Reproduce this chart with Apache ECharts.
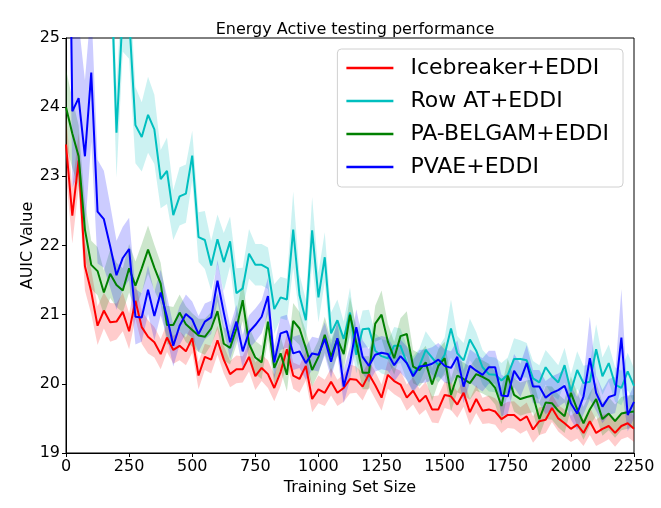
<!DOCTYPE html>
<html>
<head>
<meta charset="utf-8">
<script src="https://cdn.jsdelivr.net/npm/echarts@6/dist/echarts.min.js"></script>
<style>
  html, body { margin: 0; padding: 0; background: #fff; }
  #chart { width: 661px; height: 508px; }
</style>
</head>
<body>
<div id="chart"></div>
<script>
// training set sizes (x)
const trainingSizes = [
  0, 25, 50, 75, 100, 125, 150, 175, 200, 225,
  250, 275, 300, 325, 350, 375, 400, 425, 450, 475,
  500, 525, 550, 575, 600, 625, 650, 675, 700, 725,
  750, 775, 800, 825, 850, 875, 900, 925, 950, 975,
  1000, 1025, 1050, 1075, 1100, 1125, 1150, 1175, 1200, 1225,
  1250, 1275, 1300, 1325, 1350, 1375, 1400, 1425, 1450, 1475,
  1500, 1525, 1550, 1575, 1600, 1625, 1650, 1675, 1700, 1725,
  1750, 1775, 1800, 1825, 1850, 1875, 1900, 1925, 1950, 1975,
  2000, 2025, 2050, 2075, 2100, 2125, 2150, 2175, 2200, 2225,
  2250
];

// mean AUIC per method
const icebreakerMean = [
  23.46, 22.43, 23.23, 21.70, 21.33, 20.84, 21.06, 20.89, 20.90, 21.04,
  20.76, 21.20, 20.82, 20.68, 20.60, 20.43, 20.67, 20.49, 20.55, 20.47,
  20.66, 20.12, 20.39, 20.35, 20.63, 20.35, 20.14, 20.21, 20.21, 20.39,
  20.11, 20.23, 20.14, 19.94, 20.17, 20.50, 20.12, 20.07, 20.26, 19.78,
  19.92, 19.87, 20.03, 19.87, 19.94, 20.07, 20.06, 19.96, 20.14, 19.98,
  19.80, 20.13, 20.04, 19.99, 19.80, 19.90, 19.74, 19.83, 19.63, 19.63,
  19.84, 19.82, 19.70, 19.87, 19.59, 19.78, 19.61, 19.63, 19.60, 19.49,
  19.55, 19.55, 19.47, 19.53, 19.34, 19.46, 19.48, 19.65, 19.50, 19.43,
  19.35, 19.41, 19.29, 19.46, 19.29, 19.35, 19.39, 19.29, 19.39, 19.43,
  19.35
];
const rowAtMean = [
  29.0, 28.5, 28.8, 28.0, 27.6, 27.8, 27.2, 26.4, 23.63, 25.4,
  25.3, 23.74, 23.57, 23.89, 23.68, 22.96, 23.08, 22.44, 22.71, 22.75,
  23.30, 22.12, 22.08, 21.71, 22.09, 21.76, 22.06, 21.31, 21.38, 21.88,
  21.72, 21.72, 21.67, 21.08, 21.25, 21.22, 22.23, 21.28, 20.92, 22.22,
  21.25, 21.83, 20.73, 20.92, 20.65, 21.03, 20.42, 20.79, 20.80, 20.48,
  20.40, 20.37, 20.55, 20.55, 20.30, 20.15, 20.26, 20.49, 20.38, 20.27,
  20.42, 20.80, 20.44, 20.34, 20.64, 20.48, 20.24, 20.14, 20.13, 20.05,
  20.13, 20.36, 20.36, 20.34, 20.08, 20.02, 20.24, 20.11, 20.02, 20.27,
  19.89, 20.20, 20.01, 20.03, 20.50, 20.11, 20.30, 19.99, 19.94, 20.18,
  19.97
];
const paBelgamMean = [
  24.00, 23.62, 23.29, 22.23, 21.72, 21.63, 21.32, 21.59, 21.43, 21.35,
  21.67, 21.42, 21.67, 21.94, 21.68, 21.45, 20.85, 20.85, 21.03, 20.86,
  20.78, 20.70, 20.68, 20.80, 21.05, 20.58, 20.52, 20.80, 21.21, 20.58,
  20.38, 20.31, 20.90, 20.23, 20.44, 20.13, 20.91, 20.80, 20.52, 20.20,
  20.39, 20.71, 20.39, 20.65, 20.43, 21.00, 20.59, 20.16, 20.16, 20.87,
  21.00, 20.61, 20.37, 20.69, 20.72, 20.25, 20.20, 20.31, 19.99, 20.26,
  20.37, 19.84, 20.12, 20.07, 20.01, 20.14, 20.10, 20.05, 19.94, 19.68,
  20.12, 19.84, 19.78, 19.81, 19.83, 19.49, 19.73, 19.72, 19.61, 19.53,
  19.87, 19.63, 19.43, 19.63, 19.78, 19.49, 19.57, 19.46, 19.57, 19.59,
  19.60
];
const pvaeMean = [
  31.0, 23.94, 24.13, 23.29, 24.50, 22.49, 22.38, 21.99, 21.57, 21.82,
  21.95, 20.97, 20.96, 21.36, 20.98, 21.32, 20.97, 20.55, 20.84, 21.01,
  20.93, 20.72, 20.90, 20.96, 21.49, 21.03, 20.60, 20.90, 20.47, 20.75,
  20.85, 20.97, 21.27, 20.31, 20.73, 20.76, 20.44, 20.47, 20.30, 20.44,
  20.42, 20.65, 20.32, 20.66, 19.96, 20.30, 20.82, 20.39, 20.26, 20.42,
  20.45, 20.43, 20.27, 20.40, 20.30, 20.11, 20.25, 20.26, 20.29, 20.35,
  20.26, 20.23, 20.39, 19.96, 20.26, 20.19, 20.13, 20.24, 20.24, 19.83,
  19.82, 20.19, 20.05, 20.30, 19.96, 19.96, 19.80, 19.87, 19.91, 19.97,
  19.72, 19.57, 19.82, 20.37, 19.87, 19.67, 19.81, 19.84, 20.67, 19.55,
  19.74
];

// half width of the shaded band
const icebreakerSpread = [
  0.45, 0.40, 0.40, 0.35, 0.32, 0.28, 0.26, 0.28, 0.26, 0.28,
  0.26, 0.26, 0.24, 0.24, 0.22, 0.22, 0.21, 0.20, 0.21, 0.20,
  0.21, 0.20, 0.19, 0.20, 0.21, 0.20, 0.19, 0.20, 0.19, 0.21,
  0.20, 0.19, 0.20, 0.19, 0.20, 0.21, 0.19, 0.20, 0.21, 0.19,
  0.20, 0.19, 0.20, 0.19, 0.20, 0.21, 0.19, 0.20, 0.19, 0.20,
  0.19, 0.20, 0.19, 0.20, 0.19, 0.20, 0.19, 0.20, 0.19, 0.20,
  0.19, 0.20, 0.19, 0.20, 0.19, 0.20, 0.19, 0.20, 0.19, 0.20,
  0.19, 0.20, 0.19, 0.20, 0.19, 0.20, 0.19, 0.20, 0.19, 0.20,
  0.19, 0.20, 0.19, 0.20, 0.19, 0.20, 0.19, 0.20, 0.19, 0.20,
  0.19
];
const rowAtSpread = [
  0.60, 0.60, 0.60, 0.60, 0.60, 0.60, 0.60, 0.60, 0.65, 0.60,
  0.60, 0.55, 0.50, 0.55, 0.50, 0.42, 0.48, 0.36, 0.42, 0.42,
  0.36, 0.36, 0.42, 0.36, 0.36, 0.42, 0.36, 0.36, 0.30, 0.36,
  0.30, 0.30, 0.30, 0.36, 0.30, 0.30, 0.55, 0.30, 0.30, 0.48,
  0.36, 0.36, 0.30, 0.30, 0.25, 0.36, 0.27, 0.27, 0.27, 0.25,
  0.25, 0.25, 0.27, 0.25, 0.25, 0.25, 0.25, 0.27, 0.25, 0.25,
  0.25, 0.42, 0.25, 0.25, 0.30, 0.27, 0.25, 0.25, 0.25, 0.25,
  0.25, 0.30, 0.27, 0.25, 0.25, 0.25, 0.25, 0.27, 0.25, 0.25,
  0.25, 0.27, 0.25, 0.25, 0.36, 0.27, 0.27, 0.25, 0.25, 0.27,
  0.25
];
const paBelgamSpread = [
  0.55, 0.50, 0.45, 0.40, 0.35, 0.35, 0.32, 0.35, 0.32, 0.32,
  0.35, 0.35, 0.35, 0.35, 0.33, 0.30, 0.28, 0.26, 0.26, 0.26,
  0.24, 0.24, 0.26, 0.24, 0.26, 0.24, 0.24, 0.24, 0.30, 0.24,
  0.24, 0.24, 0.26, 0.24, 0.24, 0.24, 0.26, 0.24, 0.24, 0.24,
  0.24, 0.26, 0.24, 0.24, 0.24, 0.26, 0.24, 0.24, 0.24, 0.26,
  0.35, 0.26, 0.24, 0.26, 0.33, 0.24, 0.24, 0.24, 0.24, 0.24,
  0.24, 0.24, 0.24, 0.24, 0.24, 0.24, 0.24, 0.24, 0.24, 0.26,
  0.24, 0.24, 0.24, 0.24, 0.24, 0.24, 0.24, 0.24, 0.24, 0.24,
  0.24, 0.24, 0.24, 0.24, 0.24, 0.24, 0.24, 0.24, 0.24, 0.24,
  0.24
];
const pvaeSpread = [
  1.20, 1.10, 1.10, 1.10, 1.00, 0.75, 0.70, 0.60, 0.50, 0.45,
  0.45, 0.40, 0.35, 0.35, 0.35, 0.33, 0.30, 0.30, 0.28, 0.28,
  0.26, 0.26, 0.26, 0.24, 0.30, 0.26, 0.24, 0.24, 0.24, 0.24,
  0.24, 0.24, 0.26, 0.24, 0.24, 0.24, 0.24, 0.24, 0.24, 0.24,
  0.24, 0.24, 0.24, 0.24, 0.24, 0.24, 0.26, 0.24, 0.24, 0.24,
  0.24, 0.24, 0.24, 0.24, 0.24, 0.24, 0.24, 0.24, 0.24, 0.24,
  0.24, 0.24, 0.24, 0.24, 0.24, 0.24, 0.24, 0.24, 0.24, 0.30,
  0.26, 0.24, 0.24, 0.26, 0.24, 0.24, 0.24, 0.24, 0.24, 0.24,
  0.24, 0.24, 0.26, 0.60, 0.26, 0.24, 0.26, 0.26, 0.70, 0.24,
  0.24
];

const methods = [
  { name: 'Icebreaker+EDDI', color: '#ff0000', band: 'rgba(255,0,0,0.2)', mean: icebreakerMean, spread: icebreakerSpread },
  { name: 'Row AT+EDDI', color: '#00bfbf', band: 'rgba(0,191,191,0.2)', mean: rowAtMean, spread: rowAtSpread },
  { name: 'PA-BELGAM+EDDI', color: '#008000', band: 'rgba(0,128,0,0.2)', mean: paBelgamMean, spread: paBelgamSpread },
  { name: 'PVAE+EDDI', color: '#0000ff', band: 'rgba(0,0,255,0.2)', mean: pvaeMean, spread: pvaeSpread }
];

const FONT = 'DejaVu Sans';
const series = [];

// shaded bands: invisible lower edge, then band width stacked on it
methods.forEach((m, i) => {
  series.push({
    name: m.name + ' lo',
    type: 'line',
    stack: 'band' + i,
    symbol: 'none',
    silent: true,
    lineStyle: { opacity: 0 },
    z: 1,
    data: m.mean.map((v, k) => +(v - m.spread[k]).toFixed(3))
  });
  series.push({
    name: m.name + ' band',
    type: 'line',
    stack: 'band' + i,
    symbol: 'none',
    silent: true,
    lineStyle: { opacity: 0 },
    areaStyle: { color: m.band, opacity: 1 },
    z: 1,
    data: m.spread.map(s => +(2 * s).toFixed(3))
  });
});

// mean lines
methods.forEach((m) => {
  series.push({
    name: m.name,
    type: 'line',
    symbol: 'none',
    color: m.color,
    lineStyle: { color: m.color, width: 2 },
    z: 3,
    data: m.mean
  });
});

const chart = echarts.init(document.getElementById('chart'), null, { renderer: 'canvas' });

chart.setOption({
  backgroundColor: '#ffffff',
  animation: false,
  title: {
    text: 'Energy Active testing performance',
    left: 350,
    top: 17,
    textAlign: 'center',
    textStyle: { fontFamily: FONT, fontSize: 16, fontWeight: 'normal', color: '#000' }
  },
  legend: {
    data: methods.map(m => m.name),
    orient: 'vertical',
    right: 38,
    top: 49,
    padding: [8, 14, 9, 9],
    icon: 'rect',
    itemWidth: 47,
    itemHeight: 2.5,
    itemGap: 11,
    backgroundColor: '#fff',
    borderColor: '#d0d0d0',
    borderWidth: 1,
    borderRadius: 4,
    textStyle: { fontFamily: FONT, fontSize: 22, color: '#000', lineHeight: 22, padding: [0, 0, 0, 12] }
  },
  grid: {
    left: 66,
    right: 27,
    top: 38,
    bottom: 55,
    show: true,
    borderColor: '#000',
    borderWidth: 1
  },
  xAxis: {
    type: 'category',
    boundaryGap: false,
    data: trainingSizes,
    name: 'Training Set Size',
    nameLocation: 'middle',
    nameGap: 27,
    nameTextStyle: { fontFamily: FONT, fontSize: 16, color: '#000' },
    axisLine: { lineStyle: { color: '#000', width: 1 } },
    axisTick: { length: 4, interval: 9, lineStyle: { color: '#000' } },
    axisLabel: { fontFamily: FONT, fontSize: 16, color: '#000', margin: 6, interval: 9 },
    splitLine: { show: false }
  },
  yAxis: {
    type: 'value',
    min: 19,
    max: 25,
    interval: 1,
    name: 'AUIC Value',
    nameLocation: 'middle',
    nameGap: 30,
    nameMoveOverlap: false,
    nameTextStyle: { fontFamily: FONT, fontSize: 16, color: '#000' },
    axisLine: { show: true, lineStyle: { color: '#000', width: 1 } },
    axisTick: { show: true, length: 4, lineStyle: { color: '#000' } },
    axisLabel: { fontFamily: FONT, fontSize: 16, color: '#000', margin: 6 },
    splitLine: { show: false }
  },
  series: series
});
</script>
</body>
</html>
